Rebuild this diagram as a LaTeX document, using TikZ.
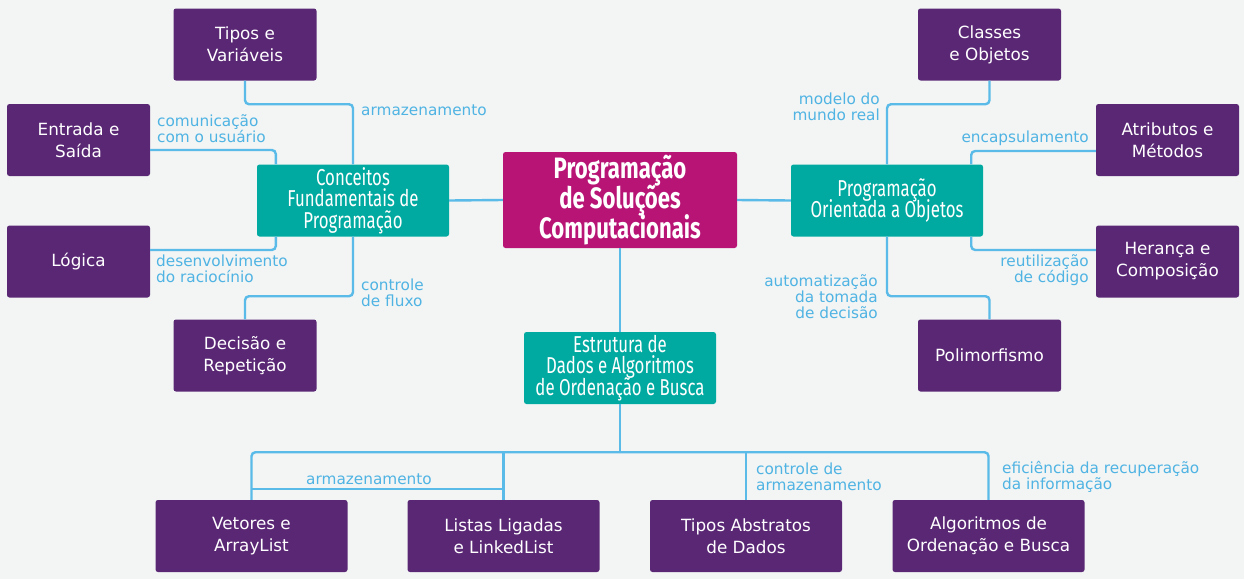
\documentclass[tikz,border=0pt]{standalone}
\usepackage{fontspec}
\setmainfont{DejaVu Sans}
\newfontfamily\condfont[FakeStretch=0.73]{Fira Sans}
\newfontfamily\corefont[FakeStretch=0.75]{Fira Sans}
\usetikzlibrary{calc}
\newcommand\tightls{\lineskiplimit=-30pt\relax}
\definecolor{bgc}{HTML}{F2F5F4}
\definecolor{purp}{HTML}{5A2775}
\definecolor{tealc}{HTML}{00AAA0}
\definecolor{mag}{HTML}{B81476}
\definecolor{linec}{HTML}{5BBBE8}
\definecolor{labc}{HTML}{4FB3E3}
\tikzset{
  leaf/.style={fill=purp, text=white, rounded corners=2.5pt, minimum width=143pt, minimum height=72pt, inner sep=0pt, align=center, font=\fontsize{16.8}{22}\selectfont\tightls},
  wleaf/.style={leaf, minimum width=192pt},
  hub/.style={fill=tealc, text=white, rounded corners=2.5pt, minimum width=192pt, minimum height=72pt, inner sep=0pt, align=center, font=\condfont\fontsize{23}{21.7}\selectfont\tightls},
  core/.style={fill=mag, text=white, rounded corners=2.5pt, minimum width=234pt, minimum height=96pt, inner sep=0pt, align=center, font=\corefont\bfseries\fontsize{29.5}{30}\selectfont\tightls},
  conn/.style={draw=linec, line width=2.4pt, rounded corners=4pt},
  lab/.style={text=labc, inner sep=0pt, font=\fontsize{15.3}{16}\selectfont\tightls},
  labl/.style={lab, anchor=west, align=left},
  labr/.style={lab, anchor=east, align=right}
}
\begin{document}
\begin{tikzpicture}[x=1pt,y=-1pt]
\fill[bgc] (0,0) rectangle (1244,579);
\useasboundingbox (0,0) rectangle (1244,579);
% nodes
\node[core] (central) at (620,200) {Programação\\de Soluções\\Computacionais};
\node[hub] (conceitos) at (353,200.5) {Conceitos\\Fundamentais de\\Programação};
\node[hub] (poo) at (887,200.5) {Programação\\Orientada a Objetos};
\node[hub] (estrutura) at (620,368) {Estrutura de\\Dados e Algoritmos\\de Ordenação e Busca};
\node[leaf] (tipos) at (245,44.5) {Tipos e\\Variáveis};
\node[leaf] (entrada) at (78.5,140) {Entrada e\\Saída};
\node[leaf] (logica) at (78.5,261.5) {Lógica};
\node[leaf] (decisao) at (245,355.5) {Decisão e\\Repetição};
\node[leaf] (classes) at (989.5,44.5) {Classes\\e Objetos};
\node[leaf] (atributos) at (1167.5,140) {Atributos e\\Métodos};
\node[leaf] (heranca) at (1167.5,261.5) {Herança e\\Composição};
\node[leaf] (polimorfismo) at (989.5,355.5) {Polimorfismo};
\node[wleaf] (vetores) at (251.5,536) {Vetores e\\ArrayList};
\node[wleaf] (listas) at (503.5,536) {Listas Ligadas\\e LinkedList};
\node[wleaf] (tad) at (746,536) {Tipos Abstratos\\de Dados};
\node[wleaf] (algoritmos) at (988.5,536) {Algoritmos de\\Ordenação e Busca};
% connectors
\draw[conn] (conceitos.east) -- (central.west);
\draw[conn] (central.east) -- (poo.west);
\draw[conn] (central.south) -- (estrutura.north);
\draw[conn] (tipos.south) -- ++(0,23.5) -| (conceitos.north);
\draw[conn] ($(entrada.east)+(0,10)$) -| ([xshift=19pt]conceitos.north west);
\draw[conn] ($(logica.east)+(0,-11.5)$) -| ([xshift=19pt]conceitos.south west);
\draw[conn] (conceitos.south) -- ++(0,59.5) -| (decisao.north);
\draw[conn] (classes.south) -- ++(0,23.5) -| (poo.north);
\draw[conn] ($(atributos.west)+(0,11)$) -| ([xshift=-12pt]poo.north east);
\draw[conn] ($(heranca.west)+(0,-11.5)$) -| ([xshift=-12pt]poo.south east);
\draw[conn] (poo.south) -- ++(0,59.5) -| (polimorfismo.north);
\coordinate (bj) at ($(estrutura.south)+(0,48)$);
\coordinate (bl) at ($(vetores.north)+(0,-11)$);
\draw[conn] (estrutura.south) -- (bj);
\draw[conn] (vetores.north) |- (bj);
\draw[conn] (algoritmos.north) |- (bj);
\draw[conn] (listas.north) -- (listas.north |- bj);
\draw[conn] (tad.north) -- (tad.north |- bj);
\draw[conn] (bl) -- (listas.north |- bl);
% labels
\node[labl] (l1) at (361,110) {armazenamento};
\node[labl] (l2) at (157,129) {comunicação\\com o usuário};
\node[labl] (l3) at (156,269) {desenvolvimento\\do raciocínio};
\node[labl] (l4) at (361,293) {controle\\de fluxo};
\node[labr] (l5) at (880,107) {modelo do\\mundo real};
\node[labr] (l6) at (1089,138) {encapsulamento};
\node[labr] (l7) at (1089,270) {reutilização\\de código};
\node[labr] (l8) at (878,297) {automatização\\da tomada\\de decisão};
\node[labl] (l9) at (306,479) {armazenamento};
\node[labl] (l10) at (756,477) {controle de\\armazenamento};
\node[labl] (l11) at (1002,477) {eficiência da recuperação\\da informação};
\end{tikzpicture}
\end{document}
